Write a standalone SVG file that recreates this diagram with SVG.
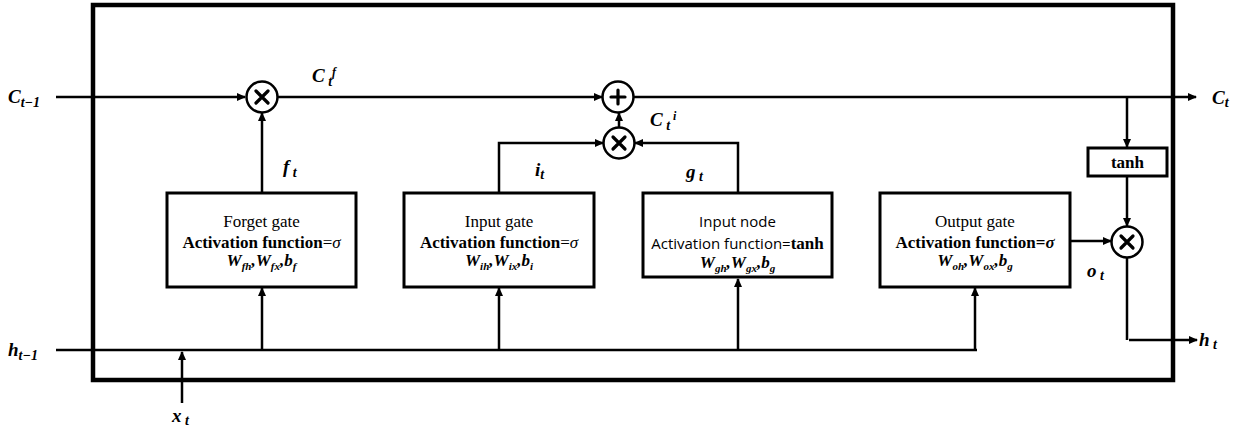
<svg xmlns="http://www.w3.org/2000/svg" width="1256" height="429" viewBox="0 0 1256 429">
<style>
.ln{fill:none;stroke:#000;stroke-width:2.5}
.box{fill:#fff;stroke:#000;stroke-width:3}
.op{fill:#fff;stroke:#000;stroke-width:2.5}
.sym{stroke:#000;stroke-width:3.2;stroke-linecap:round}
.lab{font-family:'Liberation Serif','DejaVu Serif','Times New Roman',serif;font-weight:bold;font-style:italic;font-size:19px;fill:#000}
.sub{font-size:14px}
.t{font-family:'Liberation Serif','DejaVu Serif','Times New Roman',serif;font-size:17px;fill:#000;text-anchor:middle}
.b{font-weight:bold}
.s{font-family:'Open Sans','Liberation Sans',sans-serif;font-size:15px;fill:#000;text-anchor:middle}
</style>
<defs>
<marker id="ah" markerWidth="9" markerHeight="8" refX="8" refY="4" orient="auto" markerUnits="userSpaceOnUse">
<path d="M0,0 L9,4 L0,8 z" fill="#000"/>
</marker>
</defs>
<rect x="93" y="5" width="1080" height="375" fill="none" stroke="#000" stroke-width="4.5"/>
<g id="connectors">
<path class="ln" d="M56,97 H245" marker-end="url(#ah)"/>
<path class="ln" d="M277,97 H602" marker-end="url(#ah)"/>
<path class="ln" d="M634,97 H1196" marker-end="url(#ah)"/>
<path class="ln" d="M1127,97 V147" marker-end="url(#ah)"/>
<path class="ln" d="M1127,176 V226" marker-end="url(#ah)"/>
<path class="ln" d="M1070,241 H1111" marker-end="url(#ah)"/>
<path class="ln" d="M1127,258 V340"/>
<path class="ln" d="M1129,340 H1197" marker-end="url(#ah)"/>
<path class="ln" d="M262,193 V113" marker-end="url(#ah)"/>
<path class="ln" d="M499,193 V143 H603" marker-end="url(#ah)"/>
<path class="ln" d="M738,193 V143 H635" marker-end="url(#ah)"/>
<path class="ln" d="M619,128 V113" marker-end="url(#ah)"/>
<path class="ln" d="M56,350 H977"/>
<path class="ln" d="M262,350 V288" marker-end="url(#ah)"/>
<path class="ln" d="M499,350 V288" marker-end="url(#ah)"/>
<path class="ln" d="M738,350 V279" marker-end="url(#ah)"/>
<path class="ln" d="M975,350 V288" marker-end="url(#ah)"/>
<path class="ln" d="M182,403 V352" marker-end="url(#ah)"/>
</g>
<g id="mult-forget">
<circle class="op" cx="262" cy="97" r="15.5"/>
<path class="sym" d="M256,91 L268,103 M268,91 L256,103"/>
</g>
<g id="plus">
<circle class="op" cx="618" cy="97" r="15.5"/>
<path class="sym" d="M618,90 V104 M611,97 H625"/>
</g>
<g id="mult-input">
<circle class="op" cx="619" cy="143" r="15.5"/>
<path class="sym" d="M613,137 L625,149 M625,137 L613,149"/>
</g>
<g id="mult-output">
<circle class="op" cx="1127" cy="242" r="15.5"/>
<path class="sym" d="M1121,236 L1133,248 M1133,236 L1121,248"/>
</g>
<g id="tanh">
<rect class="box" x="1088" y="148" width="79" height="28"/>
<text x="1127.5" y="168" class="t b">tanh</text>
</g>
<g id="forget-gate">
<rect class="box" x="167" y="193" width="189" height="94"/>
<text x="261.5" y="227" class="t">Forget gate</text>
<text x="261.5" y="248" class="t"><tspan class="b">Activation function</tspan>=<tspan font-style="italic">σ</tspan></text>
<text x="261.5" y="266" class="t b" font-style="italic" font-size="18">W<tspan font-size="11" dy="4">fh</tspan><tspan dy="-4">,W</tspan><tspan font-size="11" dy="4">fx</tspan><tspan dy="-4">,b</tspan><tspan font-size="11" dy="4">f</tspan></text>
</g>
<g id="input-gate">
<rect class="box" x="404" y="193" width="190" height="94"/>
<text x="499" y="227" class="t">Input gate</text>
<text x="499" y="248" class="t"><tspan class="b">Activation function</tspan>=<tspan font-style="italic">σ</tspan></text>
<text x="499" y="266" class="t b" font-style="italic" font-size="18">W<tspan font-size="11" dy="4">ih</tspan><tspan dy="-4">,W</tspan><tspan font-size="11" dy="4">ix</tspan><tspan dy="-4">,b</tspan><tspan font-size="11" dy="4">i</tspan></text>
</g>
<g id="input-node">
<rect class="box" x="643" y="193" width="189" height="84"/>
<text x="737.5" y="227" class="s">Input node</text>
<text x="737.5" y="249" class="s">Activation function=<tspan font-family="'Liberation Serif','DejaVu Serif',serif" font-weight="bold" font-size="17">tanh</tspan></text>
<text x="737.5" y="268" class="t b" font-style="italic" font-size="18">W<tspan font-size="11" dy="4">gh</tspan><tspan dy="-4">,W</tspan><tspan font-size="11" dy="4">gx</tspan><tspan dy="-4">,b</tspan><tspan font-size="11" dy="4">g</tspan></text>
</g>
<g id="output-gate">
<rect class="box" x="880" y="193" width="190" height="94"/>
<text x="975" y="227" class="t">Output gate</text>
<text x="975" y="248" class="t b">Activation function=<tspan font-style="italic">σ</tspan></text>
<text x="975" y="266" class="t b" font-style="italic" font-size="18">W<tspan font-size="11" dy="4">oh</tspan><tspan dy="-4">,W</tspan><tspan font-size="11" dy="4">ox</tspan><tspan dy="-4">,b</tspan><tspan font-size="11" dy="4">g</tspan></text>
</g>
<g id="labels">
<text x="8" y="103" class="lab" font-size="20">C<tspan class="sub" dy="4">t−1</tspan></text>
<text x="8" y="356" class="lab" font-size="20">h<tspan class="sub" dy="4">t−1</tspan></text>
<text x="312" y="82" class="lab" font-size="18">C<tspan class="sub" dy="4" font-size="11"> t</tspan><tspan font-size="12" dy="-10">f</tspan></text>
<text x="283" y="173" class="lab" font-size="18">f<tspan class="sub" dy="4" font-size="11"> t</tspan></text>
<text x="535" y="176" class="lab" font-size="18">i<tspan class="sub" dy="3" font-size="11">t</tspan></text>
<text x="686" y="178" class="lab" font-size="18">g<tspan class="sub" dy="3" font-size="11"> t</tspan></text>
<text x="650" y="126" class="lab" font-size="18">C<tspan class="sub" dy="4" font-size="11"> t</tspan><tspan font-size="12" dy="-10"> i</tspan></text>
<text x="1212" y="104" class="lab" font-size="18">C<tspan class="sub" dy="3" font-size="11">t</tspan></text>
<text x="1087" y="277" class="lab" font-size="18">o<tspan class="sub" dy="3" font-size="11"> t</tspan></text>
<text x="1199" y="346" class="lab" font-size="18">h<tspan class="sub" dy="3" font-size="11"> t</tspan></text>
<text x="172" y="422" class="lab" font-size="18">x<tspan class="sub" dy="3" font-size="11"> t</tspan></text>
</g>
</svg>
